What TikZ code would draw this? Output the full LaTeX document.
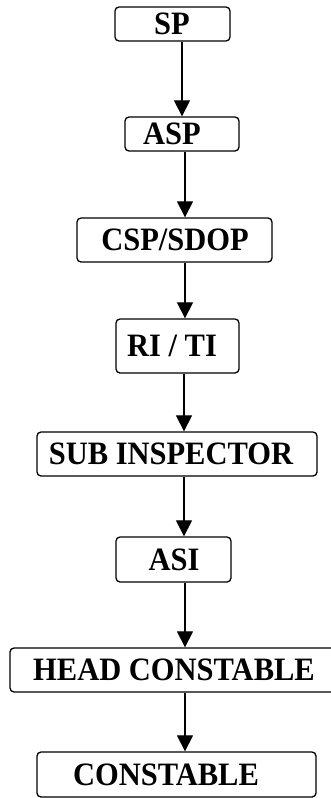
\documentclass[tikz,border=0pt]{standalone}
\usepackage{fontspec}
\setmainfont{Liberation Serif}
\usetikzlibrary{arrows.meta}
\newcommand{\ranktitle}[1]{\scalebox{1}[1.07]{#1}}

\begin{document}
\begin{tikzpicture}[x=1pt,y=-1pt,
  rank/.style={draw=black, line width=1.3pt, rounded corners=4pt, fill=white,
    inner sep=0pt, anchor=center},
  rtext/.style={anchor=base, inner sep=0pt, font=\fontsize{30.5}{32}\selectfont\bfseries},
  arr/.style={line width=1.2pt, -{Triangle[length=16pt,width=16pt]}}]
  \useasboundingbox (0,0) rectangle (331,798);
  \clip (0,0) rectangle (331,798);
  \fill[white] (0,0) rectangle (331,798);

  % rank boxes
  \node[rank, minimum width=115pt, minimum height=34pt] (sp)  at (172.5,24)  {};
  \node[rank, minimum width=114pt, minimum height=34pt] (asp) at (182,134)   {};
  \node[rank, minimum width=195pt, minimum height=44pt] (csp) at (174.5,240) {};
  \node[rank, minimum width=123pt, minimum height=54pt] (ri)  at (177.5,346) {};
  \node[rank, minimum width=280pt, minimum height=44pt] (si)  at (177,454)   {};
  \node[rank, minimum width=115pt, minimum height=45pt] (asi) at (173.5,559.5) {};
  \node[rank, minimum width=325pt, minimum height=44pt] (hc)  at (172.5,670) {};
  \node[rank, minimum width=279pt, minimum height=45pt] (con) at (176.5,774.5) {};

  % rank titles
  \node[rtext] (tsp)  at (172,34.8)    {\ranktitle{SP}};
  \node[rtext] (tasp) at (172,144.8)   {\ranktitle{ASP}};
  \node[rtext] (tcsp) at (175,250.8)   {\ranktitle{CSP/SDOP}};
  \node[rtext] (tri)  at (172,356.8)   {\ranktitle{RI / TI}};
  \node[rtext] (tsi)  at (171,464.8)   {\ranktitle{SUB INSPECTOR}};
  \node[rtext] (tasi) at (174,570.3)   {\ranktitle{ASI}};
  \node[rtext] (thc)  at (174,680.8)   {\ranktitle{HEAD CONSTABLE}};
  \node[rtext] (tcon) at (166,785.3)   {\ranktitle{CONSTABLE}};

  % vertical guide lines for the connectors
  \coordinate (xa) at (182,0);
  \coordinate (xb) at (185,0);
  \coordinate (xc) at (184,0);

  \draw[arr] (sp.south -| xa)  -- (asp.north -| xa);
  \draw[arr] (asp.south -| xb) -- (csp.north -| xb);
  \draw[arr] (csp.south -| xb) -- (ri.north -| xb);
  \draw[arr] (ri.south -| xc)  -- (si.north -| xc);
  \draw[arr] (si.south -| xc)  -- (asi.north -| xc);
  \draw[arr] (asi.south -| xb) -- (hc.north -| xb);
  \draw[arr] (hc.south -| xb)  -- (con.north -| xb);
\end{tikzpicture}
\end{document}
